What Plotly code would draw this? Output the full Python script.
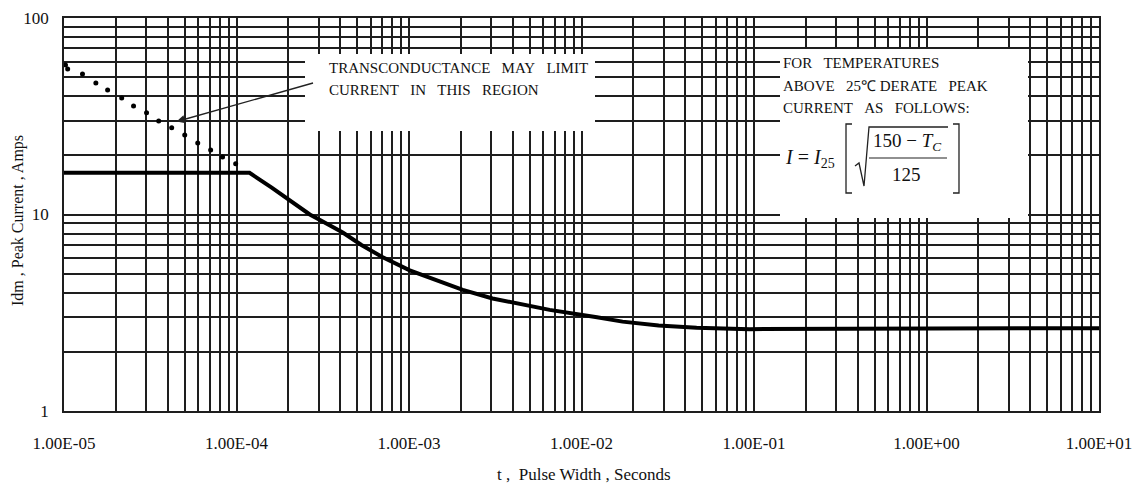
import math
import plotly.graph_objects as go

# ---- data ----
x_tickvals = [1e-5, 1e-4, 1e-3, 1e-2, 1e-1, 1e0, 1e1]
x_ticktext = ["1.00E-05", "1.00E-04", "1.00E-03", "1.00E-02", "1.00E-01", "1.00E+00", "1.00E+01"]
y_tickvals = [1, 10, 100]
y_ticktext = ["1", "10", "100"]

# peak current limit curve
curve_t = [1.0e-5, 1.19e-4, 1.6e-4, 2.03e-4, 2.66e-4, 3.03e-4, 4.13e-4, 5.3e-4, 6.95e-4, 1.01e-3,
           1.45e-3, 2.05e-3, 3.05e-3, 5.21e-3, 6.54e-3, 1.23e-2, 1.73e-2, 2.8e-2, 4.65e-2, 9.44e-2,
           0.359, 4.72, 10.0]
curve_i = [16.3, 16.3, 13.7, 11.9, 10.0, 9.4, 8.1, 7.0, 6.1, 5.2,
           4.6, 4.13, 3.74, 3.38, 3.27, 3.0, 2.85, 2.72, 2.65, 2.61,
           2.63, 2.64, 2.64]

# transconductance-limited region (dotted)
dots_t = [1.02e-5, 1.05e-5, 1.28e-5, 1.53e-5, 1.79e-5, 2.16e-5, 2.53e-5, 3.01e-5,
          3.54e-5, 4.21e-5, 5.01e-5, 5.96e-5, 7.08e-5, 8.30e-5, 9.89e-5]
dots_i = [57.7, 55.0, 51.9, 46.7, 43.0, 39.2, 35.7, 32.9,
          29.9, 27.6, 25.4, 23.1, 21.3, 19.6, 18.1]

arrow_tip = (4.49e-5, 29.7)

# ---- layout helpers (pixel -> paper) ----
W, H = 1137, 489
PL, PR, PT, PB = 64, 1099, 18, 411


def px(x):
    return (x - PL) / (PR - PL)


def py(y):
    return (PB - y) / (PB - PT)


def path(points):
    return "M " + " L ".join(f"{px(a):.5f},{py(b):.5f}" for a, b in points)


SERIF = "Liberation Serif, Times New Roman, serif"
NB = "\u00a0"
GRID = "#1e1e1e"

fig = go.Figure()
fig.add_trace(go.Scatter(x=curve_t, y=curve_i, mode="lines",
                         line=dict(color="black", width=4, shape="linear"),
                         showlegend=False, hoverinfo="skip"))
fig.add_trace(go.Scatter(x=dots_t, y=dots_i, mode="markers",
                         marker=dict(color="black", size=5),
                         showlegend=False, hoverinfo="skip"))

axis_common = dict(type="log", showgrid=True, gridcolor=GRID, gridwidth=1.6,
                   showline=True, linecolor=GRID, linewidth=1.6, mirror=True,
                   zeroline=False, ticks="", automargin=False,
                   tickfont=dict(family=SERIF, size=17, color="#111"))

fig.update_xaxes(range=[-5, 1], tickvals=x_tickvals, ticktext=x_ticktext,
                 ticklabelstandoff=16,
                 minor=dict(dtick="D1", showgrid=True, gridcolor=GRID, gridwidth=1.6, ticks=""),
                 **axis_common)
fig.update_yaxes(range=[0, 2], tickvals=y_tickvals, ticktext=y_ticktext,
                 ticklabelstandoff=10,
                 minor=dict(dtick="D1", showgrid=True, gridcolor=GRID, gridwidth=1.6, ticks=""),
                 **axis_common)

shapes = [
    # white label boxes over the grid
    dict(type="rect", xref="paper", yref="paper", x0=px(305), x1=px(595), y0=py(131), y1=py(54),
         fillcolor="white", line=dict(width=0), layer="above"),
    dict(type="rect", xref="paper", yref="paper", x0=px(780), x1=px(1028), y0=py(218), y1=py(49),
         fillcolor="white", line=dict(width=0), layer="above"),
    # formula brackets, radical and fraction bar
    dict(type="path", xref="paper", yref="paper", path=path([(852, 124), (846, 124), (846, 193), (852, 193)]),
         line=dict(color="#222", width=1.3), layer="above"),
    dict(type="path", xref="paper", yref="paper", path=path([(953, 124), (959, 124), (959, 193), (953, 193)]),
         line=dict(color="#222", width=1.3), layer="above"),
    dict(type="path", xref="paper", yref="paper",
         path=path([(855, 166), (859, 163), (864, 186), (869, 127), (948, 127)]),
         line=dict(color="#222", width=1.3), layer="above"),
    dict(type="path", xref="paper", yref="paper", path=path([(869, 158), (947, 158)]),
         line=dict(color="#222", width=1.2), layer="above"),
]


def txt(x, y, s, size=14, xanchor="left", **kw):
    return dict(x=px(x), y=py(y), xref="paper", yref="paper", text=s, showarrow=False,
                xanchor=xanchor, yanchor="middle",
                font=dict(family=SERIF, size=size, color="#111"), **kw)


annotations = [
    txt(327, 68, f"TRANSCONDUCTANCE{NB*3}MAY{NB*3}LIMIT", size=15),
    txt(327, 90, f"CURRENT{NB*3}IN{NB*3}THIS{NB*3}REGION", size=15),
    txt(781, 63, f"FOR{NB*3}TEMPERATURES", size=15),
    txt(781, 86, f"ABOVE{NB*3}25\u2103 DERATE{NB*3}PEAK", size=15),
    txt(781, 108, f"CURRENT{NB*3}AS{NB*3}FOLLOWS:", size=15),
    txt(783, 158, "<i>I</i> = <i>I</i><sub>25</sub>", size=20),
    txt(907, 142, "150 \u2212 <i>T</i><sub><i>C</i></sub>", size=19, xanchor="center"),
    txt(906, 175, "125", size=19, xanchor="center"),
    # axis titles
    txt(584, 474, f"t ,{NB*2}Pulse Width , Seconds", size=17, xanchor="center"),
    dict(x=px(18), y=py(221), xref="paper", yref="paper", text="Idm , Peak Current , Amps",
         showarrow=False, textangle=-90, xanchor="center", yanchor="middle",
         font=dict(family=SERIF, size=16, color="#111")),
    # arrow
    dict(x=math.log10(arrow_tip[0]), y=math.log10(arrow_tip[1]), xref="x", yref="y",
         ax=138, ay=-39, axref="pixel", ayref="pixel", text="", showarrow=True,
         arrowhead=2, arrowsize=1.2, arrowwidth=1.4, arrowcolor="#222"),
]

fig.update_layout(width=W, height=H, margin=dict(l=PL, r=W - PR, t=PT, b=H - PB),
                  paper_bgcolor="white", plot_bgcolor="white",
                  shapes=shapes, annotations=annotations, showlegend=False)

fig.write_html("out.html")
